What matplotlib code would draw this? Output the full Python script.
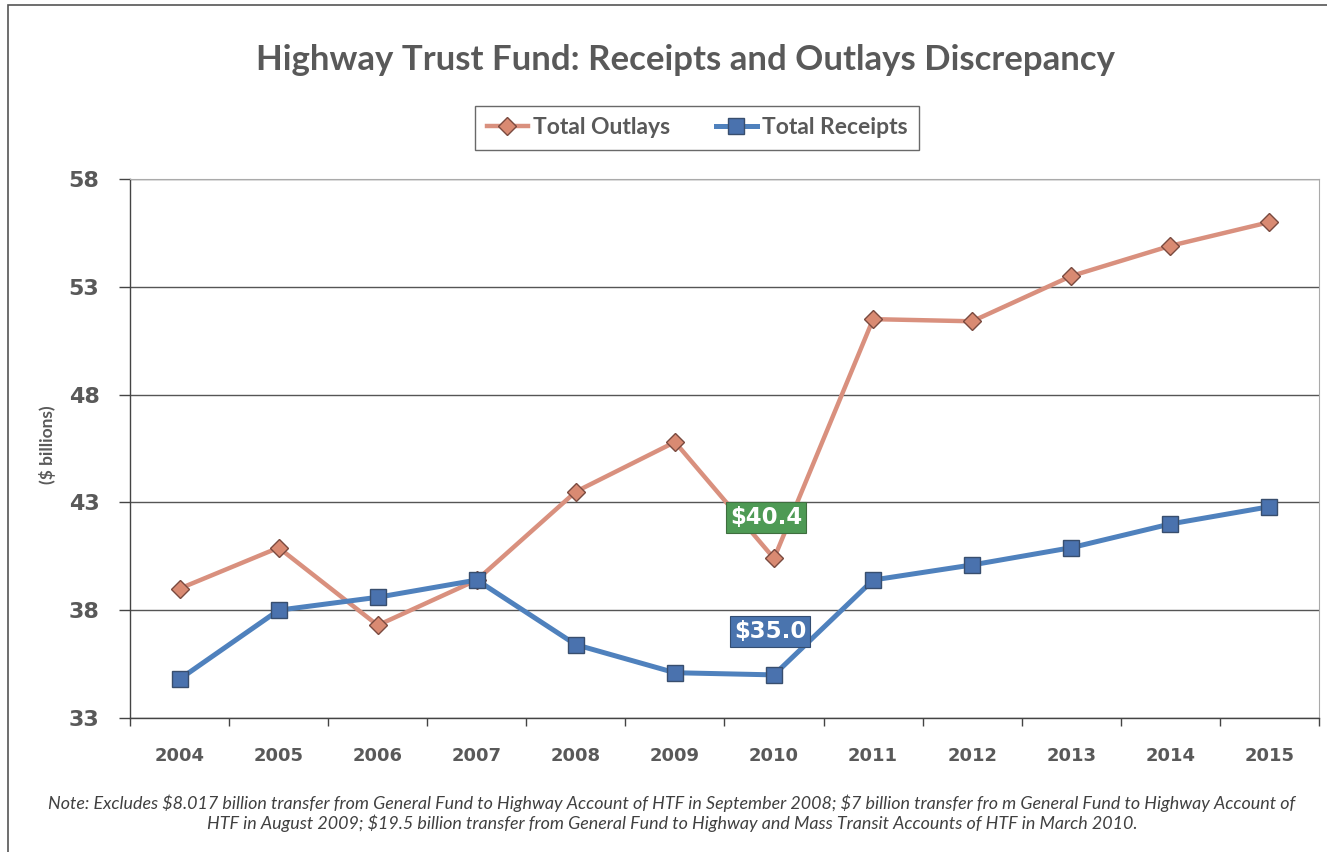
import matplotlib
matplotlib.use("Agg")
import matplotlib.pyplot as plt
from matplotlib.patches import Rectangle

years = ["2004", "2005", "2006", "2007", "2008", "2009", "2010",
         "2011", "2012", "2013", "2014", "2015"]
outlays = [39.0, 40.9, 37.3, 39.4, 43.5, 45.8, 40.4, 51.5, 51.4, 53.5, 54.9, 56.0]
receipts = [34.8, 38.0, 38.6, 39.4, 36.4, 35.1, 35.0, 39.4, 40.1, 40.9, 42.0, 42.8]
yticks = [33, 38, 43, 48, 53, 58]

plt.rcParams['font.family'] = ['Lato', 'DejaVu Sans']
grey = '#595959'
tickfont = 'DejaVu Sans'

fig = plt.figure(figsize=(13.27, 8.52), dpi=100)
ax = fig.add_axes([130/1327, 1-718/852, (1319-130)/1327, (718-179)/852])

x = list(range(len(years)))
ax.plot(x, outlays, color='#D9907E', lw=3.2, marker='D', ms=9,
        mfc='#D98A72', mec='#7a4a3f', mew=1.0, label='Total Outlays', zorder=3)
ax.plot(x, receipts, color='#4F81BD', lw=3.6, marker='s', ms=12,
        mfc='#4A72AE', mec='#384e6e', mew=1.0, label='Total Receipts', zorder=3)

ax.set_xlim(-0.5, len(years) - 0.5)
ax.set_ylim(33, 58)
ax.set_yticks(yticks)
ax.set_yticklabels([str(v) for v in yticks], fontsize=16, fontweight='bold', color=grey,
                   family=tickfont)
ax.set_xticks(x)
ax.set_xticklabels(years, fontsize=13, fontweight='bold', color=grey, family=tickfont)
ax.set_xticks([i - 0.5 for i in range(len(years) + 1)], minor=True)
ax.tick_params(axis='x', which='major', length=0, pad=21)
ax.tick_params(axis='x', which='minor', length=6, width=1, color='#444444')
ax.tick_params(axis='y', length=8, width=1, color='#444444', pad=14)
ax.grid(axis='y', color='#555555', lw=1.0, zorder=0)
for side in ['top', 'right']:
    ax.spines[side].set_color('#aaaaaa')
    ax.spines[side].set_linewidth(0.8)
for side in ['left', 'bottom']:
    ax.spines[side].set_color('#444444')
    ax.spines[side].set_linewidth(1.0)

fig.text(48/1327, 1-445/852, '($ billions)', rotation=90, ha='center', va='center',
         fontsize=12.5, fontweight='bold', color=grey)

ax.text(5.92, 42.3, '$40.4', ha='center', va='center', fontsize=16.5, fontweight='bold',
        color='white', zorder=5, family=tickfont,
        bbox=dict(boxstyle='square,pad=0.18', fc='#4E9A55', ec='#3f6e3f', lw=0.8))
ax.text(5.96, 37.0, '$35.0', ha='center', va='center', fontsize=16.5, fontweight='bold',
        color='white', zorder=5, family=tickfont,
        bbox=dict(boxstyle='square,pad=0.18', fc='#4A74AE', ec='#344e72', lw=0.8))

fig.text(686/1327, 1-60/852, 'Highway Trust Fund: Receipts and Outlays Discrepancy',
         ha='center', va='center', fontsize=25, fontweight='bold', color=grey)

leg = fig.legend(loc='center', bbox_to_anchor=(697/1327, 1-128/852), ncol=2,
                 frameon=True, fancybox=False, prop={'size': 16.5, 'weight': 'bold'},
                 handlelength=1.8, columnspacing=2.0, borderpad=0.5, handletextpad=0.2)
leg.get_frame().set_edgecolor('#444444')
leg.get_frame().set_linewidth(1.0)
for t in leg.get_texts():
    t.set_color(grey)

note1 = ("Note: Excludes \\$8.017 billion transfer from General Fund to Highway Account of HTF in September 2008; "
         "\\$7 billion transfer fro m General Fund to Highway Account of")
note2 = ("HTF in August 2009; \\$19.5 billion transfer from General Fund to Highway and Mass Transit Accounts of HTF in March 2010.")
fig.text(672/1327, 1-803/852, note1, ha='center', va='center', fontsize=12.9,
         style='italic', color='#404040')
fig.text(672/1327, 1-823/852, note2, ha='center', va='center', fontsize=12.9,
         style='italic', color='#404040')

fig.add_artist(Rectangle((8/1327, -0.01), 1.02, 1 - 5/852 + 0.01, transform=fig.transFigure,
                         fill=False, ec='#555555', lw=1.2))

fig.savefig('out.png', dpi=100)
